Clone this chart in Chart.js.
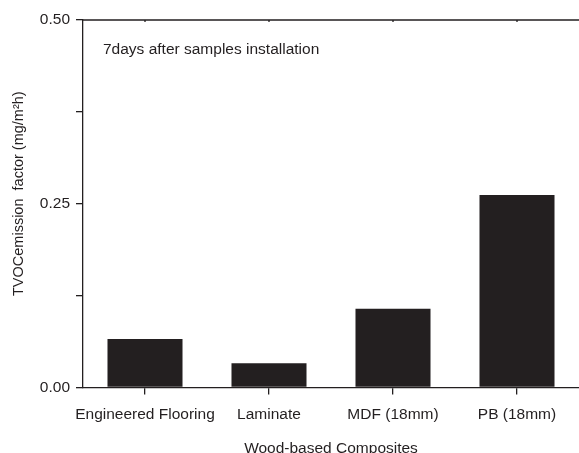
<!DOCTYPE html>
<html>
<head>
<meta charset="utf-8">
<script src="https://cdn.jsdelivr.net/npm/chart.js@4.4.0/dist/chart.umd.min.js"></script>
<style>
  html, body { margin: 0; padding: 0; background: #fff; }
  #wrap { width: 579px; height: 453px; }
</style>
</head>
<body>
<div id="wrap"><canvas id="emissionChart"></canvas></div>
<script>
// materiais e fatores de emissao (leitura do grafico)
const categories = ['Engineered Flooring', 'Laminate', 'MDF (18mm)', 'PB (18mm)'];
const tvocValues = [0.066, 0.033, 0.107, 0.262];
const yTickLabels = ['0.00', '0.25', '0.50'];

const ink = '#231f20';
Chart.defaults.font.family = '"Liberation Sans", Arial, sans-serif';
Chart.defaults.font.size = 15.5;
Chart.defaults.color = ink;

// linha superior do quadro + nota no canto
const framePlugin = {
    id: 'frame',
    afterDraw(chart) {
        const { ctx, chartArea } = chart;
        const xScale = chart.scales.x;
        ctx.save();
        ctx.strokeStyle = ink;
        ctx.lineWidth = 1.3;
        ctx.beginPath();
        ctx.moveTo(chartArea.left, chartArea.top);
        ctx.lineTo(chartArea.right, chartArea.top);
        xScale.ticks.forEach((t, i) => {
            const px = xScale.getPixelForTick(i);
            ctx.moveTo(px, chartArea.top);
            ctx.lineTo(px, chartArea.top + 2);
        });
        ctx.stroke();
        ctx.fillStyle = ink;
        ctx.font = '15.5px "Liberation Sans", Arial, sans-serif';
        ctx.textBaseline = 'middle';
        ctx.fillText('7days after samples installation', chartArea.left + 20, chartArea.top + 30);
        ctx.restore();
    }
};

new Chart(document.getElementById('emissionChart').getContext('2d'), {
    type: 'bar',
    data: {
        labels: categories,
        datasets: [{
            label: 'TVOC',
            data: tvocValues,
            backgroundColor: ink,
            borderWidth: 0,
            barPercentage: 0.605,
            categoryPercentage: 1
        }]
    },
    options: {
        responsive: true,
        maintainAspectRatio: false,
        animation: false,
        layout: { padding: { top: 20, right: 0, left: 0, bottom: 0 } },
        plugins: {
            legend: { display: false },
            tooltip: { enabled: false }
        },
        scales: {
            x: {
                offset: true,
                grid: { display: true, drawOnChartArea: false, drawTicks: true, tickLength: 7, color: ink, lineWidth: 1.3, offset: false },
                border: { display: true, color: ink, width: 1.3 },
                ticks: { padding: 11, maxRotation: 0, autoSkip: false },
                title: { display: true, text: 'Wood-based Composites', padding: { top: 14, bottom: -5 } },
                afterFit(scale) { scale.height = 65.5; }
            },
            y: {
                min: 0,
                max: 0.5,
                grid: { display: true, drawOnChartArea: false, drawTicks: true, tickLength: 7, color: ink, lineWidth: 1.3 },
                border: { display: true, color: ink, width: 1.3 },
                ticks: {
                    stepSize: 0.125,
                    padding: 6,
                    callback: (v) => {
                        const idx = Math.round(v / 0.25);
                        return Math.abs(v - idx * 0.25) < 1e-6 ? yTickLabels[idx] : '';
                    }
                },
                title: {
                    display: true,
                    text: '     TVOCemission  factor (mg/m²h)',
                    font: { size: 14.5 },
                    padding: { top: 10, bottom: 0 }
                },
                afterFit(scale) { scale.width = 83; }
            }
        }
    },
    plugins: [framePlugin]
});
</script>
</body>
</html>
